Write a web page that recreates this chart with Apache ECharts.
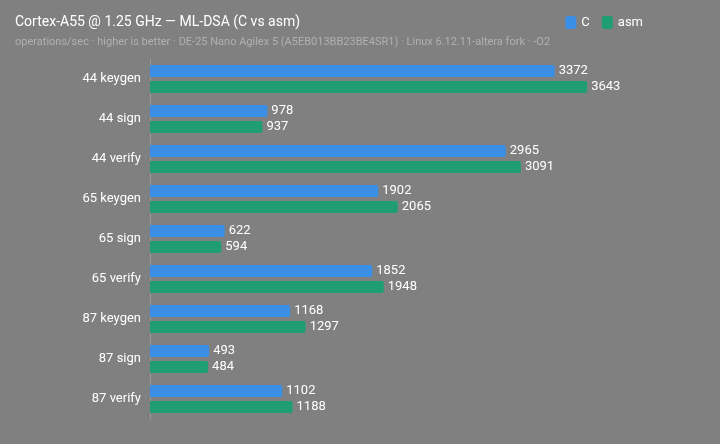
<!DOCTYPE html><html><head><meta charset="utf-8">
<script src="https://cdn.jsdelivr.net/npm/echarts@6/dist/echarts.min.js"></script>
<style>html,body{margin:0;background:#808080}#c{width:720px;height:444px}</style></head><body><div id="c"></div>
<script>
const categories=['44 keygen','44 sign','44 verify','65 keygen','65 sign','65 verify','87 keygen','87 sign','87 verify'];
const cVals=[3372,978,2965,1902,622,1852,1168,493,1102];
const asmVals=[3643,937,3091,2065,594,1948,1297,484,1188];
const ch=echarts.init(document.getElementById('c'));
const lbl={show:true,position:'right',color:'#fff',fontSize:13,distance:4,fontFamily:'Roboto'};
ch.setOption({backgroundColor:'#808080',animation:false,
title:{text:'Cortex-A55 @ 1.25 GHz — ML-DSA (C vs asm)',subtext:'operations/sec · higher is better · DE-25 Nano Agilex 5 (A5EB013BB23BE4SR1) · Linux 6.12.11-altera fork · -O2',left:10,top:10,itemGap:8,
textStyle:{color:'#fff',fontSize:14,fontWeight:'normal',fontFamily:'Roboto'},subtextStyle:{color:'#b0b0b0',fontSize:11,fontFamily:'Roboto'}},
legend:{right:72,top:11,itemWidth:11,itemHeight:13,itemGap:12,textStyle:{color:'#fff',fontSize:13,fontFamily:'Roboto'},data:['C','asm']},
grid:{left:150,right:90,top:59,bottom:25},
xAxis:{type:'value',min:0,max:4000,show:false},
yAxis:{type:'category',inverse:true,data:categories,axisTick:{show:false},axisLine:{lineStyle:{color:'#999'}},axisLabel:{color:'#fff',fontSize:13,margin:9,fontFamily:'Roboto'}},
series:[{name:'C',type:'bar',data:cVals,barWidth:12,barGap:'33%',itemStyle:{color:'#3a8ee6',borderRadius:[0,2,2,0]},label:lbl},
{name:'asm',type:'bar',data:asmVals,barWidth:12,itemStyle:{color:'#1f9e74',borderRadius:[0,2,2,0]},label:lbl}]});
</script></body></html>
